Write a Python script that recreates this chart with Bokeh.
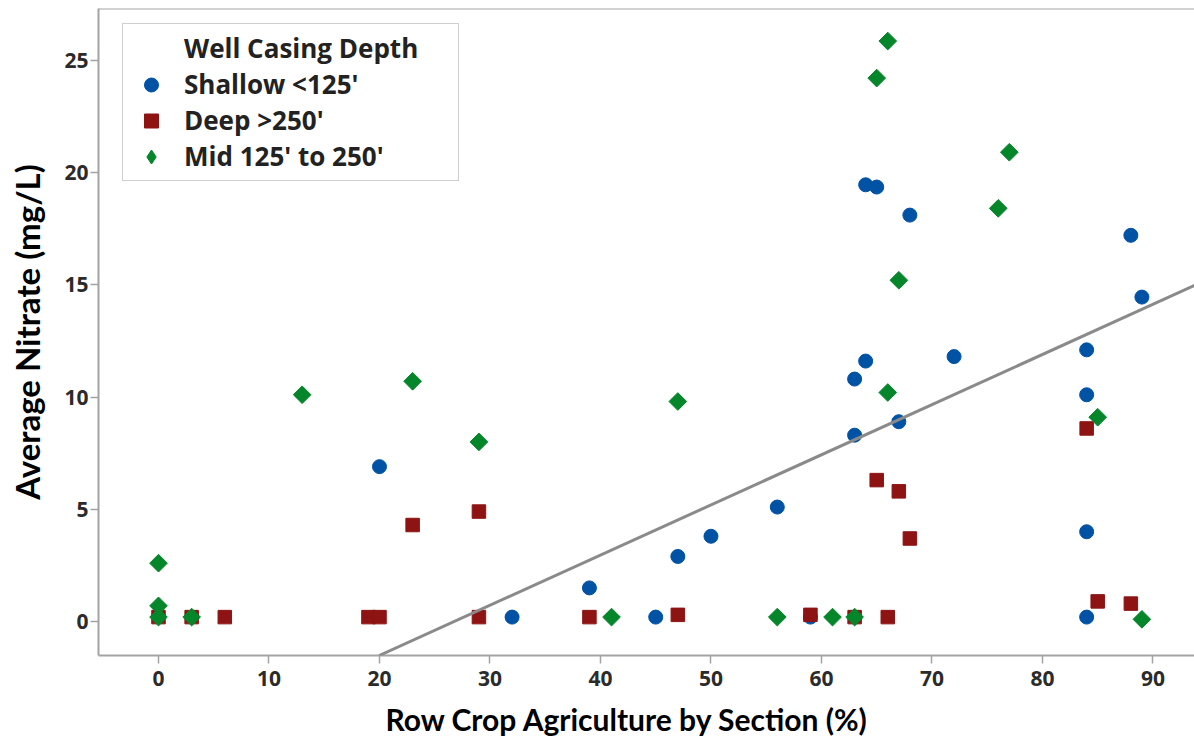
import numpy as np
from bokeh.plotting import figure
from bokeh.models import Legend, LegendItem, Slope, Span, FixedTicker, Range1d, Title
from bokeh.embed import file_html
from bokeh.resources import INLINE

# ---- data ----
shallow_x = [20, 32, 39, 45, 47, 50, 56, 59, 63, 63, 64, 64, 65, 67, 68, 72, 84, 84, 84, 84, 88, 89]
shallow_y = [6.9, 0.2, 1.5, 0.2, 2.9, 3.8, 5.1, 0.2, 8.3, 10.8, 11.6, 19.45, 19.35, 8.9, 18.1, 11.8,
             12.1, 10.1, 4.0, 0.2, 17.2, 14.45]

deep_x = [0, 3, 6, 19, 20, 23, 29, 29, 39, 47, 59, 63, 65, 66, 67, 68, 84, 85, 88]
deep_y = [0.2, 0.2, 0.2, 0.2, 0.2, 4.3, 4.9, 0.2, 0.2, 0.3, 0.3, 0.2, 6.3, 0.2, 5.8, 3.7, 8.6, 0.9, 0.8]

mid_x = [0, 0, 0, 3, 13, 23, 29, 41, 47, 56, 61, 63, 65, 66, 66, 67, 76, 77, 85, 89]
mid_y = [2.6, 0.7, 0.2, 0.2, 10.1, 10.7, 8.0, 0.2, 9.8, 0.2, 0.2, 0.2, 24.2, 25.85, 10.2, 15.2,
         18.4, 20.9, 9.1, 0.1]

series_labels = ["Shallow <125'", "Deep >250'", "Mid 125' to 250'"]
legend_title = "Well Casing Depth"

x_ticks = [0, 10, 20, 30, 40, 50, 60, 70, 80, 90]
y_ticks = [0, 5, 10, 15, 20, 25]

fit_slope = 0.2233
fit_intercept = -5.97

x_title = "Row Crop Agriculture by Section (%)"
y_title = "Average Nitrate (mg/L)"

X_START, X_END = -5.43, 93.76
Y_START, Y_END = -1.51, 27.30

BLUE, RED, GREEN = "#0052a5", "#8e1414", "#05862b"

# ---- figure ----
p = figure(width=1194, height=749, output_backend="svg", toolbar_location=None,
           x_range=Range1d(X_START, X_END), y_range=Range1d(Y_START, Y_END),
           min_border_left=98, min_border_right=0, min_border_top=8, min_border_bottom=94,
           background_fill_color="white", border_fill_color="white")
p.outline_line_color = None
p.grid.visible = False

AX = "#a3a3a3"
for ax in (p.xaxis[0], p.yaxis[0]):
    ax.axis_line_color = AX
    ax.axis_line_width = 2
    ax.major_tick_line_color = AX
    ax.major_tick_line_width = 1.5
    ax.major_tick_out = 8
    ax.major_tick_in = 0
    ax.minor_tick_line_color = None
    ax.major_label_text_font = "Open Sans"
    ax.major_label_text_font_style = "bold"
    ax.major_label_text_font_size = "21px"
    ax.major_label_text_color = "#2b2b2b"
    ax.axis_label_text_font = "Lato"
    ax.axis_label_text_font_style = "bold"
    ax.axis_label_text_color = "black"

p.xaxis.ticker = FixedTicker(ticks=x_ticks)
p.yaxis.ticker = FixedTicker(ticks=y_ticks)
p.yaxis.axis_label = y_title
p.yaxis.axis_label_text_font_size = "33px"
p.xaxis.major_label_standoff = 7
p.yaxis.major_label_standoff = 2
p.yaxis.axis_label_standoff = 14

# x axis title as a bottom title, offset to sit where the reference puts it
p.add_layout(Title(text=x_title, align="left", offset=287, standoff=20,
                   vertical_align="bottom",
                   text_font="Lato", text_font_style="bold", text_font_size="30px",
                   text_color="black"), "below")

# top frame line
p.add_layout(Span(location=Y_END, dimension="width", line_color=AX, line_width=2))

# regression line
p.add_layout(Slope(gradient=fit_slope, y_intercept=fit_intercept,
                   line_color="#8a8a8a", line_width=3))

r_sh = p.scatter(shallow_x, shallow_y, marker="circle", size=14,
                 fill_color=BLUE, line_color=BLUE)
r_dp = p.scatter(deep_x, deep_y, marker="square", size=13.5,
                 fill_color=RED, line_color=RED)
r_md = p.scatter(mid_x, mid_y, marker="square", angle=np.pi / 4, size=12.5,
                 fill_color=GREEN, line_color=GREEN)
# legend swatch only (legend glyphs ignore marker rotation) - hidden renderer
r_md_key = p.scatter(mid_x, mid_y, marker="diamond", size=12.5,
                     fill_color=GREEN, line_color=GREEN, visible=False)

items = [
    LegendItem(label=legend_title, renderers=[]),
    LegendItem(label=series_labels[0], renderers=[r_sh]),
    LegendItem(label=series_labels[1], renderers=[r_dp]),
    LegendItem(label=series_labels[2], renderers=[r_md_key]),
]
legend = Legend(items=items, location=(24, 474), margin=0, padding=6, spacing=0,
                glyph_width=44, glyph_height=35, label_height=35, label_width=268,
                label_standoff=11,
                label_text_font="Open Sans", label_text_font_style="bold",
                label_text_font_size="26px", label_text_color="#222222",
                border_line_color="#a0a0a0", border_line_width=1.5,
                background_fill_color="white", background_fill_alpha=1)
p.add_layout(legend)

open("out.html", "w").write(file_html(p, INLINE))
